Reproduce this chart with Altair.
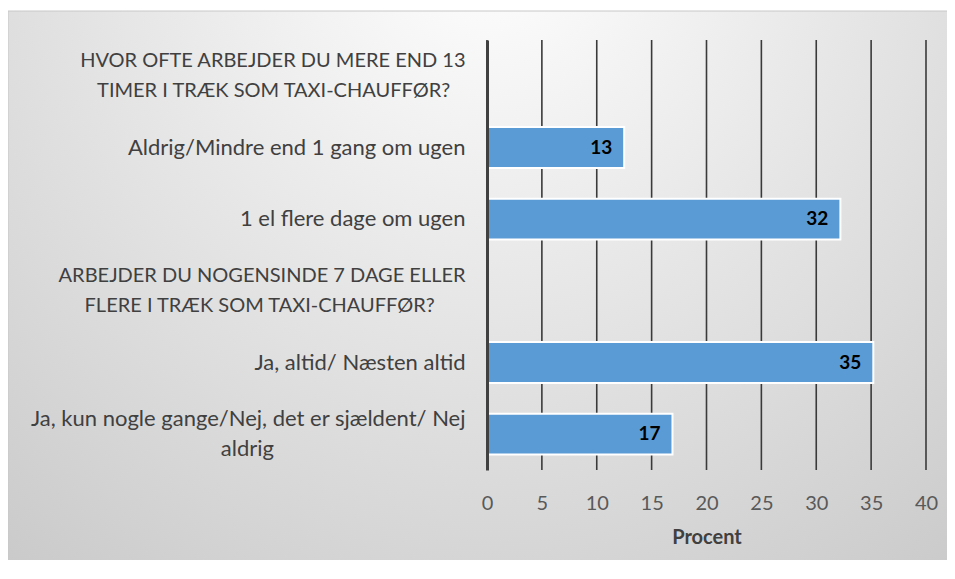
import altair as alt
import pandas as pd

# ---- data ----
label_lines = [
    ["HVOR OFTE ARBEJDER DU MERE END 13", "TIMER I TRÆK SOM TAXI-CHAUFFØR?"],
    ["Aldrig/Mindre end 1 gang om ugen"],
    ["1 el flere dage om ugen"],
    ["ARBEJDER DU NOGENSINDE 7 DAGE ELLER", "FLERE I TRÆK SOM TAXI-CHAUFFØR?"],
    ["Ja, altid/ Næsten altid"],
    ["Ja, kun nogle gange/Nej, det er sjældent/ Nej", "aldrig"],
]
values = [None, 12.5, 32.2, None, 35.2, 16.9]
value_labels = [None, "13", "32", None, "35", "17"]
x_ticks = [0, 5, 10, 15, 20, 25, 30, 35, 40]

# trailing no-break spaces (kept by a zero-width char) so wrapped lines
# look centred under the first line
line_pad = [3, 0, 0, 6, 0, 34]

NB = "\u00a0"
ZW = "\u200b"
cats = []
for lines, p in zip(label_lines, line_pad):
    if len(lines) > 1:
        cats.append(lines[0] + "\n" + lines[1] + NB * p + ZW)
    else:
        cats.append(lines[0])

df = pd.DataFrame({"cat": cats, "val": values, "lab": value_labels})
ticks_df = pd.DataFrame({"v": x_ticks})

W, H = 439, 430
FONT = "Lato"

xscale = alt.Scale(domain=[0, 40], nice=False)
yscale = alt.Scale(domain=cats, paddingInner=0.43, paddingOuter=0.215)

bg = alt.Chart(pd.DataFrame({"a": [0]})).mark_rect(
    fill=alt.RadialGradient(
        gradient="radial",
        x1=0.5, y1=0.12, r1=0,
        x2=0.5, y2=0.12, r2=0.95,
        stops=[alt.GradientStop(color="#ffffff", offset=0),
               alt.GradientStop(color="#c2c2c2", offset=1)],
    ),
    stroke="#c8c8c8", strokeWidth=1,
).encode(
    x=alt.value(-479), x2=alt.value(W + 40),
    y=alt.value(-29), y2=alt.value(H + 120),
)

yaxis = alt.Axis(
    title=None, domain=True, domainColor="#404040", domainWidth=3,
    ticks=False, tickSize=0, labelPadding=22,
    labelFontSize=alt.ConditionalAxisNumber(
        condition={"test": "datum.label == upper(datum.label)", "value": 20},
        value=22,
    ),
    labelOffset=alt.ConditionalAxisNumber(
        condition={"test": "indexof(datum.label, '\\n') >= 0", "value": -15},
        value=0,
    ),
    labelColor="#404040", labelLineHeight=30, labelLimit=700,
    labelExpr="split(datum.label, '\\n')", grid=False, zindex=1,
    labelFont=FONT,
)
xaxis = alt.Axis(
    values=x_ticks, domain=False, ticks=False, tickSize=0, grid=False,
    labelPadding=23, labelFontSize=20, labelColor="#595959", labelFont=FONT,
    labelFlush=False,
    title="Procent", titleFontWeight="bold", titleFontSize=20,
    titleColor="#404040", titlePadding=14, titleFont=FONT, zindex=1,
)

grid = alt.Chart(ticks_df).mark_rule(color="#3a3a3a", strokeWidth=1.6).encode(
    x=alt.X("v:Q", scale=xscale, axis=xaxis)
)

bars = alt.Chart(df).mark_bar(
    color="#5B9BD5", stroke="white", strokeWidth=2
).encode(
    y=alt.Y("cat:N", sort=cats, scale=yscale, axis=yaxis),
    x=alt.X("val:Q", scale=xscale, axis=xaxis),
)

texts = alt.Chart(df).mark_text(
    align="right", baseline="middle", dx=-12, fontWeight="bold",
    fontSize=19, color="black", font=FONT,
).encode(
    y=alt.Y("cat:N", sort=cats, scale=yscale, axis=yaxis),
    x=alt.X("val:Q", scale=xscale, axis=xaxis),
    text="lab:N",
)

chart = alt.layer(bg, grid, bars, texts).properties(
    width=W, height=H,
    autosize=alt.AutoSizeParams(type="none"),
    padding={"left": 479, "top": 32, "right": 21, "bottom": 90},
).configure_view(stroke=None).configure(font=FONT)

chart.save("out.html", embed_options={"renderer": "svg", "actions": False})
